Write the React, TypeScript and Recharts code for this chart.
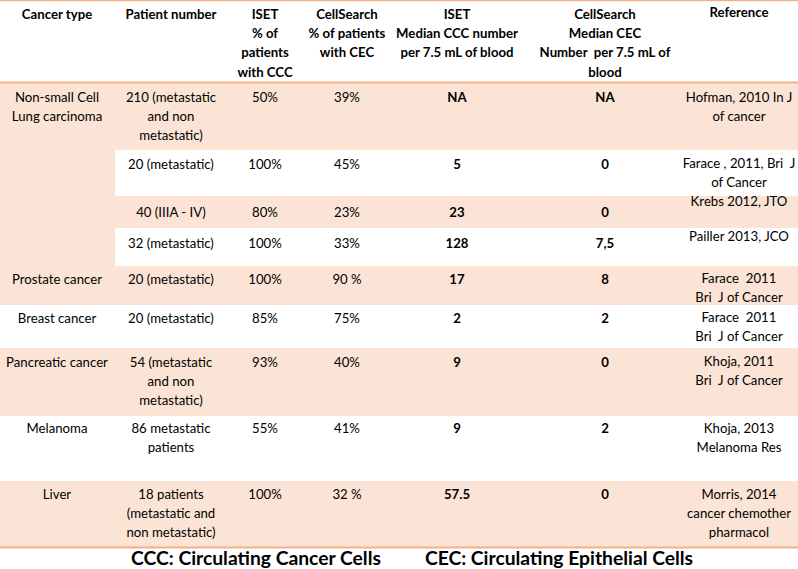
import { ScatterChart, XAxis, YAxis, Scatter, ReferenceArea, ReferenceLine } from 'recharts'

// table content, column by column
const headers = [
  'Cancer type',
  'Patient number',
  'ISET\n% of\npatients\nwith CCC',
  'CellSearch\n% of patients\nwith CEC',
  'ISET\nMedian CCC number\nper 7.5 mL of blood',
  'CellSearch\nMedian CEC\nNumber  per 7.5 mL of\nblood',
  'Reference',
]
// '' = merged with the cell above
const cancerTypes = ['Non-small Cell\nLung carcinoma', '', '', '', 'Prostate cancer', 'Breast cancer', 'Pancreatic cancer', 'Melanoma', 'Liver']
const patients = [
  '210 (metastatic\nand non\nmetastatic)',
  '20 (metastatic)',
  '40 (IIIA - IV)',
  '32 (metastatic)',
  '20 (metastatic)',
  '20 (metastatic)',
  '54 (metastatic\nand non\nmetastatic)',
  '86 metastatic\npatients',
  '18 patients\n(metastatic and\nnon metastatic)',
]
const isetPct = ['50%', '100%', '80%', '100%', '100%', '85%', '93%', '55%', '100%']
const cellSearchPct = ['39%', '45%', '23%', '33%', '90 %', '75%', '40%', '41%', '32 %']
const isetMedian = ['NA', '5', '23', '128', '17', '2', '9', '9', '57.5']
const cellSearchMedian = ['NA', '0', '0', '7,5', '8', '2', '0', '2', '0']
const references = [
  'Hofman, 2010 In J\nof cancer',
  'Farace , 2011, Bri  J\nof Cancer',
  'Krebs 2012, JTO',
  'Pailler 2013, JCO',
  'Farace  2011\nBri  J of Cancer',
  'Farace  2011\nBri  J of Cancer',
  'Khoja, 2011\nBri  J of Cancer',
  'Khoja, 2013\nMelanoma Res',
  'Morris, 2014\ncancer chemother\npharmacol',
]
const footnotes = ['CCC: Circulating Cancer Cells', 'CEC: Circulating Epithelial Cells']

// layout (chart units = pixels)
const W = 798
const H = 569
const COL_X = [57, 171, 265, 347, 457, 605, 739]
const COL0_RIGHT = 115
const HEADER_Y = 14
const ROW_EDGES = [83, 150, 196, 228, 266, 305, 348, 416, 481, 547]
const ROW_TEXT_Y = [97, 164, 212, 243, 279, 318, 362, 428, 494]
const REF_TEXT_Y = [97, 163, 201, 236, 278, 317, 361, 428, 494]
const LINE_H = 19.3
const FOOT_X = [256, 559]
const FOOT_Y = 558
const FONT = 'Lato, "Open Sans", sans-serif'
const BODY_SIZE = 13.2
const FOOT_SIZE = 19.3
const PEACH = '#FBE4D5'
const ORANGE = '#F4B083'

type CellText = { x: number; y: number; text: string; bold: boolean; size: number }

const columns = [cancerTypes, patients, isetPct, cellSearchPct, isetMedian, cellSearchMedian, references]
const boldCols = [false, false, false, false, true, true, false]

const cells: CellText[] = [
  ...headers.map((h, c) => ({ x: COL_X[c], y: c === 6 ? HEADER_Y - 2 : HEADER_Y, text: h, bold: true, size: BODY_SIZE })),
  ...columns.flatMap((col, c) =>
    col.map((t, r) => ({
      x: COL_X[c],
      y: c === 6 ? REF_TEXT_Y[r] : ROW_TEXT_Y[r],
      text: t,
      bold: boldCols[c],
      size: BODY_SIZE,
    }))
  ).filter((d) => d.text !== ''),
]
const notes: CellText[] = footnotes.map((t, i) => ({ x: FOOT_X[i], y: FOOT_Y, text: t, bold: true, size: FOOT_SIZE }))

// peach stripes: odd rows full width, merged first-column cell keeps its colour
const stripes = ROW_EDGES.slice(0, -1).flatMap((top, r) => {
  const bottom = ROW_EDGES[r + 1]
  if (r % 2 === 0) return [{ x1: 0, x2: W, y1: top, y2: bottom }]
  if (cancerTypes[r] === '') return [{ x1: 0, x2: COL0_RIGHT, y1: top, y2: bottom }]
  return []
})

const CellShape = (props: any) => {
  const { cx, cy, payload } = props
  const lines: string[] = payload.text.split('\n')
  return (
    <text
      textAnchor="middle"
      fontFamily={FONT}
      fontSize={payload.size}
      fontWeight={payload.bold ? 700 : 400}
      fill="#000"
      style={{ whiteSpace: 'pre' }}
    >
      {lines.map((l, i) => (
        <tspan key={i} x={cx} y={cy + i * LINE_H + payload.size * 0.36}>
          {l}
        </tspan>
      ))}
    </text>
  )
}

export default function App() {
  return (
    <div style={{ position: 'absolute', left: 0, top: 0, background: '#fff' }}>
      <ScatterChart width={W} height={H} margin={{ top: 0, right: 0, bottom: 0, left: 0 }}>
        <XAxis type="number" dataKey="x" domain={[0, W]} hide />
        <YAxis type="number" dataKey="y" domain={[0, H]} reversed hide />
        {stripes.map((s, i) => (
          <ReferenceArea key={i} {...s} fill={PEACH} fillOpacity={1} stroke="none" />
        ))}
        <ReferenceLine y={0.5} stroke={ORANGE} strokeWidth={1.5} />
        <ReferenceLine y={ROW_EDGES[0] - 0.5} stroke={ORANGE} strokeWidth={2} />
        <ReferenceLine y={ROW_EDGES[ROW_EDGES.length - 1] + 0.5} stroke={ORANGE} strokeWidth={2} />
        <Scatter data={cells} shape={<CellShape />} isAnimationActive={false} />
        <Scatter data={notes} shape={<CellShape />} isAnimationActive={false} />
      </ScatterChart>
    </div>
  )
}
